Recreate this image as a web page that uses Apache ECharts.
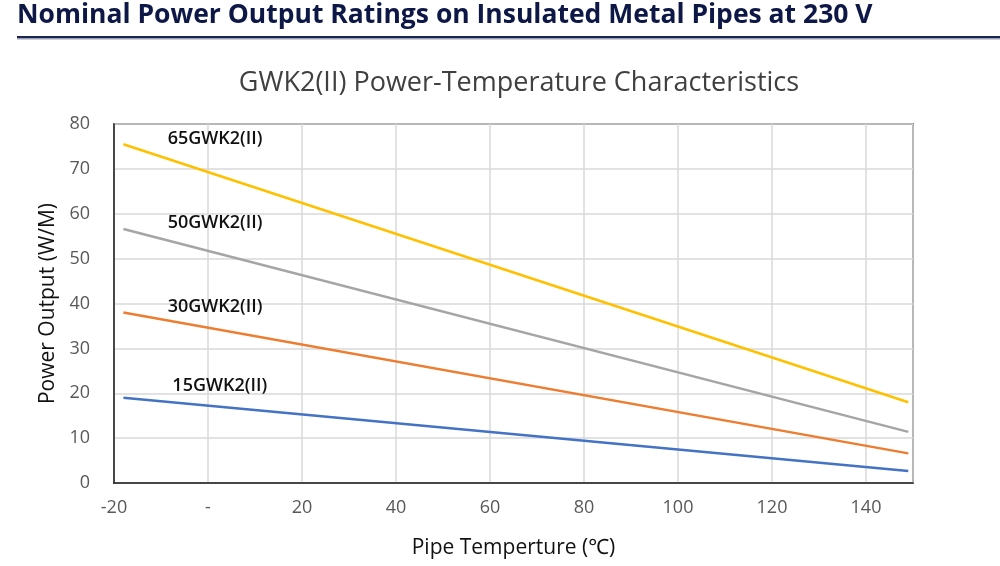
<!DOCTYPE html>
<html>
<head>
<meta charset="utf-8">
<script src="https://cdn.jsdelivr.net/npm/echarts@6/dist/echarts.min.js"></script>
<style>
html,body{margin:0;padding:0;background:#fff;}
#chart{width:1000px;height:566px;}
</style>
</head>
<body>
<div id="chart"></div>
<script>
const pageTitle = 'Nominal Power Output Ratings on Insulated Metal Pipes at 230 V';
const chartTitle = 'GWK2(II) Power-Temperature Characteristics';
const xName = 'Pipe Temperture (℃)';
const yName = 'Power Output (W/M)';
const seriesNames = ['15GWK2(II)', '30GWK2(II)', '50GWK2(II)', '65GWK2(II)'];
const seriesColors = ['#4472c4', '#ed7d31', '#a5a5a5', '#ffc000'];
const temps = [-18, 149];
const power15 = [19.0, 2.7];
const power30 = [38.0, 6.6];
const power50 = [56.6, 11.4];
const power65 = [75.5, 18.0];
const labelPos = [[2.5, 21.7], [1.5, 39.3], [1.5, 58.0], [1.5, 76.7]];
const xTicks = {'-20': '-20', '0': '-', '20': '20', '40': '40', '60': '60', '80': '80', '100': '100', '120': '120', '140': '140', '150': ''};

const allPower = [power15, power30, power50, power65];
const chart = echarts.init(document.getElementById('chart'));
const font = '"Open Sans", "Noto Sans", sans-serif';

const series = allPower.map((vals, i) => ({
  name: seriesNames[i],
  type: 'line',
  data: temps.map((t, j) => [t, vals[j]]),
  showSymbol: false,
  lineStyle: { color: seriesColors[i], width: 2.5 },
  itemStyle: { color: seriesColors[i] },
  silent: true,
  markPoint: {
    symbol: 'circle',
    symbolSize: 0,
    silent: true,
    data: [{
      coord: labelPos[i],
      label: {
        show: true,
        formatter: seriesNames[i],
        color: '#111',
        fontFamily: font,
        fontWeight: 600,
        fontSize: 18,
        position: 'inside'
      }
    }]
  }
}));

chart.setOption({
  backgroundColor: '#fff',
  animation: false,
  title: {
    text: chartTitle,
    left: 514,
    top: 65,
    textAlign: 'center',
    textStyle: { fontFamily: font, fontWeight: 'normal', fontSize: 27, color: '#404040' }
  },
  graphic: [
    {
      type: 'text',
      left: 17,
      top: 2,
      style: { text: pageTitle, font: 'bold 26.5px "Open Sans", sans-serif', fill: '#0d1847' }
    },
    {
      type: 'rect',
      shape: { x: 17, y: 36, width: 983, height: 2 },
      style: { fill: '#1c2550' }
    },
    {
      type: 'rect',
      shape: { x: 17, y: 38, width: 983, height: 1.5 },
      style: { fill: '#9aa0b4' }
    }
  ],
  grid: { left: 114, right: 87, top: 124, bottom: 83, show: true, borderColor: '#222', borderWidth: 1.5, containLabel: false },
  xAxis: {
    type: 'value',
    min: -20,
    max: 150,
    interval: 20,
    name: xName,
    nameLocation: 'middle',
    nameGap: 55,
    nameTextStyle: { fontFamily: font, fontSize: 21, color: '#111' },
    axisLine: { show: true, onZero: false, lineStyle: { color: '#222', width: 1.5 } },
    axisTick: { show: false },
    splitLine: { show: true, lineStyle: { color: '#d9d9d9', width: 1.5 } },
    axisLabel: {
      margin: 16,
      fontFamily: font,
      fontSize: 18,
      color: '#595959',
      showMaxLabel: false,
      formatter: v => (xTicks[String(v)] !== undefined ? xTicks[String(v)] : String(v))
    }
  },
  yAxis: {
    type: 'value',
    min: 0,
    max: 80,
    interval: 10,
    name: yName,
    nameLocation: 'middle',
    nameGap: 53,
    nameTextStyle: { fontFamily: font, fontSize: 21, color: '#111' },
    axisLine: { show: true, onZero: false, lineStyle: { color: '#222', width: 1.5 } },
    axisTick: { show: false },
    splitLine: { show: true, lineStyle: { color: '#d9d9d9', width: 1.5 } },
    axisLabel: { margin: 24, fontFamily: font, fontSize: 18, color: '#595959' }
  },
  series: series
});
</script>
</body>
</html>
